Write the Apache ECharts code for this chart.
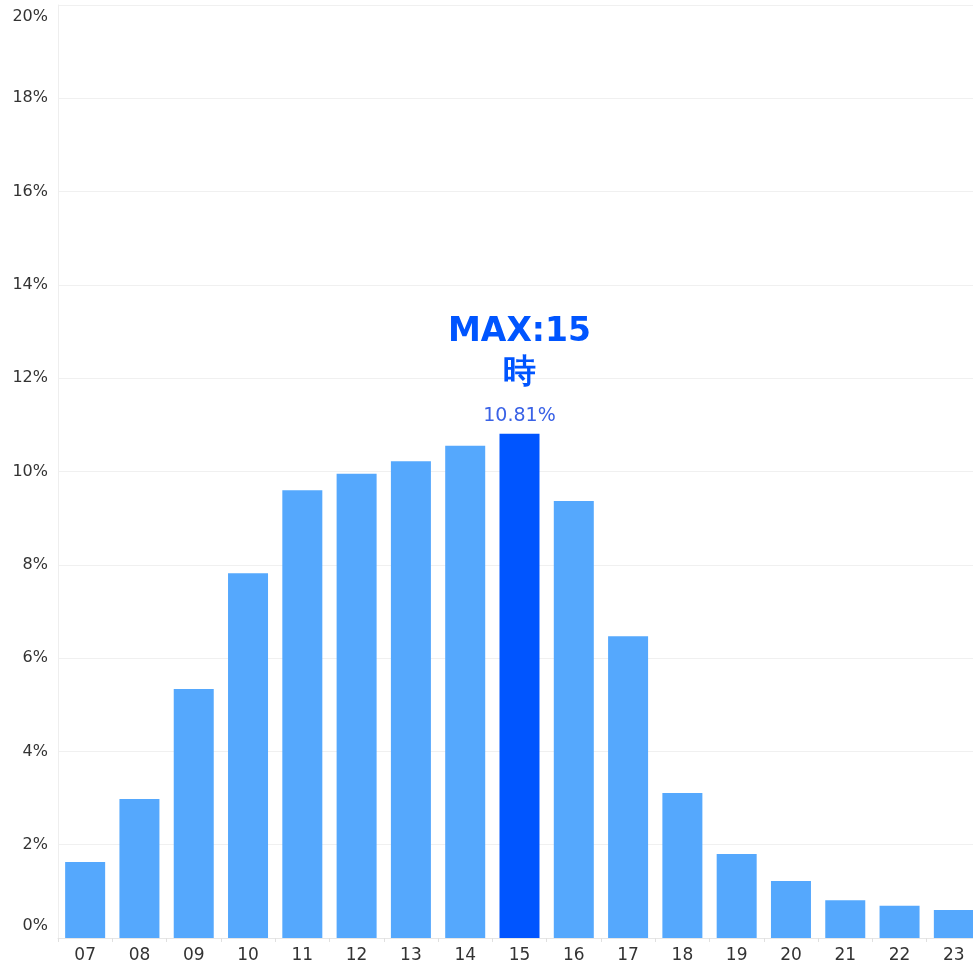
<!DOCTYPE html>
<html><head><meta charset="utf-8">
<script src="https://cdn.jsdelivr.net/npm/echarts@6/dist/echarts.min.js"></script>
<style>html,body{margin:0;padding:0;background:#fff}#c{width:973px;height:968px}</style>
</head><body><div id="c"></div>
<script>
var hours = ['07','08','09','10','11','12','13','14','15','16','17','18','19','20','21','22','23'];
var shares = [1.63, 2.98, 5.34, 7.82, 9.60, 9.95, 10.22, 10.55, 10.81, 9.37, 6.47, 3.11, 1.80, 1.22, 0.81, 0.69, 0.60];
var yTicks = [0, 2, 4, 6, 8, 10, 12, 14, 16, 18, 20];

var maxIdx = shares.indexOf(Math.max.apply(null, shares));
var data = shares.map(function (v, i) {
  if (i !== maxIdx) return v;
  return {
    value: v,
    itemStyle: { color: '#0055FF' },
    label: {
      show: true, position: 'top', distance: 8,
      formatter: '{m|MAX:' + hours[i] + '}\n{m|時}\n{v|' + v.toFixed(2) + '%}',
      rich: {
        m: { fontFamily: 'DejaVu Sans', fontWeight: 'bold', fontSize: 33, color: '#0055FF', lineHeight: 41, align: 'center' },
        v: { fontFamily: 'DejaVu Sans', fontSize: 19, color: '#3A62E6', lineHeight: 32, align: 'center', verticalAlign: 'bottom' }
      }
    }
  };
});

var chart = echarts.init(document.getElementById('c'));
chart.setOption({
  animation: false,
  grid: { left: 58, width: 923, top: 5, bottom: 30, outerBoundsMode: 'none', containLabel: false },
  xAxis: {
    type: 'category', data: hours,
    axisLine: { lineStyle: { color: '#e6e6e6' } },
    axisTick: { show: true, length: 4, lineStyle: { color: '#e0e0e0' } },
    axisLabel: { color: '#333', fontFamily: 'DejaVu Sans', fontSize: 17, margin: 9 }
  },
  yAxis: {
    type: 'value', min: yTicks[0], max: yTicks[yTicks.length - 1], interval: 2,
    axisLine: { show: true, lineStyle: { color: '#eeeeee' } },
    axisTick: { show: false },
    splitLine: { lineStyle: { color: '#f0f0f0' } },
    axisLabel: {
      color: '#333', fontFamily: 'DejaVu Sans', fontSize: 16, margin: 10,
      formatter: function (v) {
        if (v === yTicks[0]) return '{b|' + v + '%}';
        if (v === yTicks[yTicks.length - 1]) return '{t|' + v + '%}';
        return v + '%';
      },
      rich: {
        b: { padding: [0, 0, 24, 0], fontFamily: 'DejaVu Sans', fontSize: 16, color: '#333' },
        t: { padding: [24, 0, 0, 0], fontFamily: 'DejaVu Sans', fontSize: 16, color: '#333' }
      }
    }
  },
  series: [{
    type: 'bar', data: data, barWidth: 40,
    itemStyle: { color: '#55A8FD' }
  }]
});
</script></body></html>
